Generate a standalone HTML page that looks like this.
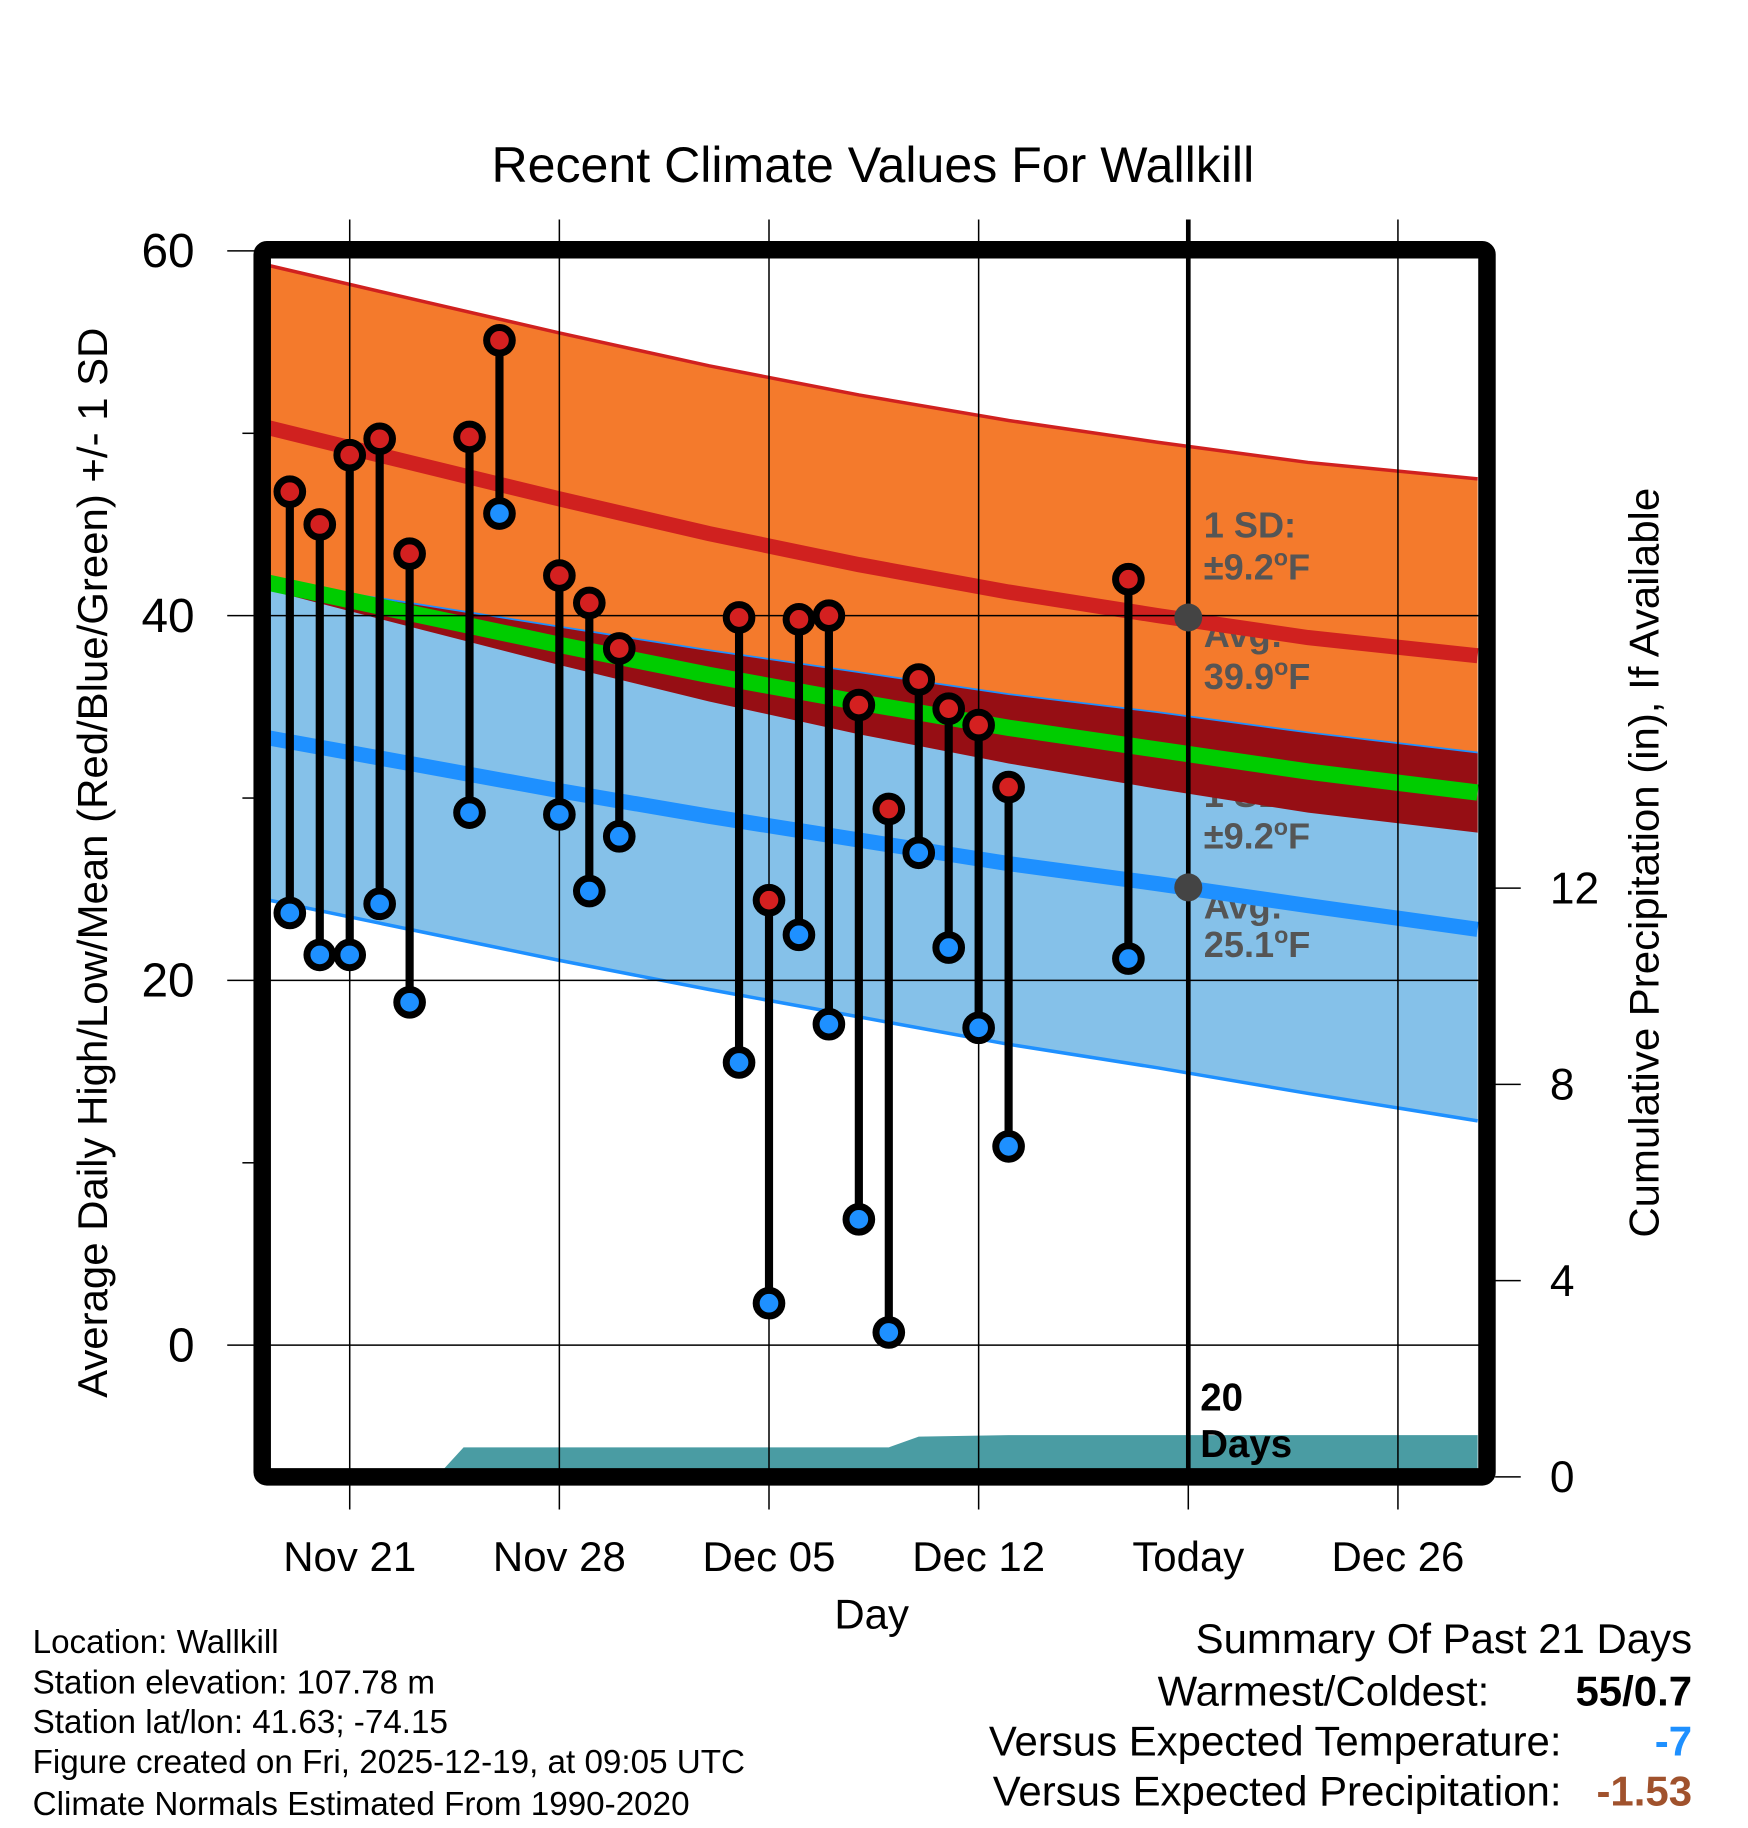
<!DOCTYPE html>
<html><head><meta charset="utf-8"><style>
html,body{margin:0;padding:0;background:#fff;}
svg{display:block;font-family:"Liberation Sans",Arial,sans-serif;}
</style></head><body>
<svg id="chart" width="1748" height="1828" viewBox="0 0 1500 1568" xmlns="http://www.w3.org/2000/svg">
<rect width="1500" height="1568" fill="#fff"/>
<text x="749" y="156" font-size="43" text-anchor="middle">Recent Climate Values For Wallkill</text>
<g id="plot"></g>
<text x="748" y="1397" font-size="36" text-anchor="middle">Day</text>
<text transform="translate(92,740) rotate(-90)" font-size="36" text-anchor="middle">Average Daily High/Low/Mean (Red/Blue/Green) +/- 1 SD</text>
<text transform="translate(1423,740) rotate(-90)" font-size="36" text-anchor="middle">Cumulative Precipitation (in), If Available</text>
<g font-size="28.5">
<text x="28" y="1418">Location: Wallkill</text>
<text x="28" y="1453">Station elevation: 107.78 m</text>
<text x="28" y="1487">Station lat/lon: 41.63; -74.15</text>
<text x="28" y="1521">Figure created on Fri, 2025-12-19, at 09:05 UTC</text>
<text x="28" y="1557">Climate Normals Estimated From 1990-2020</text>
</g>
<g font-size="36" text-anchor="end">
<text x="1452" y="1418">Summary Of Past 21 Days</text>
<text x="1278" y="1463">Warmest/Coldest:</text>
<text x="1452" y="1463" font-weight="bold">55/0.7</text>
<text x="1340" y="1506">Versus Expected Temperature:</text>
<text x="1452" y="1506" font-weight="bold" fill="#1e90ff">-7</text>
<text x="1340" y="1549">Versus Expected Precipitation:</text>
<text x="1452" y="1549" font-weight="bold" fill="#a0522d">-1.53</text>
</g>
</svg>
<script>
// day index: 0 = Nov 18
const obsDays = [1,2,3,4,5,7,8,10,11,12,16,17,18,19,20,21,22,23,24,25,29];
const highs = [46.8,45.0,48.8,49.7,43.4,49.8,55.1,42.2,40.7,38.2,39.9,24.4,39.8,40.0,35.1,29.4,36.5,34.9,34.0,30.6,42.0];
const lows  = [23.7,21.4,21.4,24.2,18.8,29.2,45.6,29.1,24.9,27.9,15.5,2.3,22.5,17.6,6.9,0.7,27.0,21.8,17.4,10.9,21.2];
const normDays = [0.3,5,10,15,20,25,30,35,40.66];
const normHigh = [50.3,48.4,46.4,44.5,42.8,41.3,40.0,38.8,37.8];
const normLow  = [33.3,31.9,30.4,29.0,27.7,26.4,25.3,24.1,22.8];
const sdHigh = [8.9,9.0,9.1,9.2,9.3,9.4,9.5,9.6,9.7];
const sdLowUp = [8.6,8.8,9.0,9.1,9.2,9.3,9.4,9.5,9.7];
const sdLowDn = [8.9,9.1,9.3,9.5,9.7,9.9,10.1,10.3,10.5];
const precipDays = [0.3,5.9,6.8,21.0,22.0,25.0,40.66];
const precipCum  = [0,0,0.6,0.6,0.82,0.85,0.85];
const xTickDays = [3,10,17,24,31,38];
const xTickLabels = ["Nov 21","Nov 28","Dec 05","Dec 12","Today","Dec 26"];
const yTicks = [0,20,40,60];
const yMinor = [10,30,50];
const y2Ticks = [0,4,8,12];

const X = d => 223 + 25.7*d;
const Y = v => 1154 - 15.65*v;
const Y2 = p => 1267 - 42.1*p;
const NS = "http://www.w3.org/2000/svg";
const plot = document.getElementById('plot');
function mk(tag, attrs, parent){const e=document.createElementNS(NS,tag);for(const k in attrs)e.setAttribute(k,attrs[k]);(parent||plot).appendChild(e);return e;}
function line(arr, fy){return arr.map((v,i)=>X(normDays[i]).toFixed(1)+','+fy(v).toFixed(1)).join(' ');}
function band(up, lo){return line(up,v=>Y(v))+' '+line(lo,v=>Y(v)).split(' ').reverse().join(' ');}
const hU = normHigh.map((v,i)=>v+sdHigh[i]), hL = normHigh.map((v,i)=>v-sdHigh[i]);
const lU = normLow.map((v,i)=>v+sdLowUp[i]), lL = normLow.map((v,i)=>v-sdLowDn[i]);
const mean = normHigh.map((v,i)=>(v+normLow[i])/2);

let e;
e = mk('polygon',{points:band(hU,hL),fill:'#f47a2c'});
 
e = mk('polygon',{points:band(lU,lL),fill:'#85c1e9'});
 

// annotations (drawn beneath overlap band)
const ann = mk('g',{fill:'#555','font-size':31,'font-weight':'bold'});
 
[['1 SD:',461,''],['±9.2',497,'F'],['Avg:',555,''],['39.9',591,'F'],['1 SD:',692,''],['±9.2',728,'F'],['Avg:',788,''],['25.1',821,'F']].forEach(t=>{
  const tx = mk('text',{x:1033,y:t[1]},ann); tx.textContent=t[0];
  if(t[2]){const s=mk('tspan',{'font-size':20,dy:-12},tx); s.textContent='o'; const f=mk('tspan',{dy:12},tx); f.textContent='F';}
});

const ovTop = lU.map((v,i)=>Math.min(v,hU[i])), ovBot = hL.map((v,i)=>Math.max(v,lL[i]));
e = mk('polygon',{points:band(ovTop,ovBot.map((v,i)=>Math.min(v,ovTop[i]))),fill:'#960e14'});
 
e = mk('polyline',{points:line(hU,Y),fill:'none',stroke:'#d0211f','stroke-width':3});
 
e = mk('polyline',{points:line(lL,Y),fill:'none',stroke:'#1e90ff','stroke-width':3});
 
e = mk('polyline',{points:line(lU,Y),fill:'none',stroke:'#1e90ff','stroke-width':1.5});
 
e = mk('polyline',{points:line(normHigh,Y),fill:'none',stroke:'#d0211f','stroke-width':13});
 
e = mk('polyline',{points:line(normLow,Y),fill:'none',stroke:'#1e90ff','stroke-width':13});
 
e = mk('polyline',{points:line(mean,Y),fill:'none',stroke:'#00cc00','stroke-width':14});
 

// precip
const pp = precipDays.map((d,i)=>X(d).toFixed(1)+','+Y2(precipCum[i]).toFixed(1));
e = mk('polygon',{points:X(precipDays[0])+','+Y2(0)+' '+pp.join(' ')+' '+X(precipDays[precipDays.length-1])+','+Y2(0),fill:'#4a9ca3'});
 

// grid
xTickDays.forEach((d,i)=>{
  e = mk('line',{x1:X(d),x2:X(d),y1:188,y2:1295,stroke:'#000','stroke-width':1.3});
   
  e = mk('text',{x:X(d),y:1348,'font-size':36,'text-anchor':'middle'}); e.textContent=xTickLabels[i];
   
});
yTicks.forEach(v=>{
  e = mk('line',{x1:195,x2:1275,y1:Y(v),y2:Y(v),stroke:'#000','stroke-width':1.3});
   
  e = mk('text',{x:167,y:Y(v)+14,'font-size':41,'text-anchor':'end'}); e.textContent=v;
   
});
yMinor.forEach(v=>{
  e = mk('line',{x1:208,x2:220,y1:Y(v),y2:Y(v),stroke:'#000','stroke-width':1.3});
   
});
y2Ticks.forEach(p=>{
  e = mk('line',{x1:1283,x2:1305,y1:Y2(p),y2:Y2(p),stroke:'#000','stroke-width':1.3});
   
  e = mk('text',{x:1330,y:Y2(p)+13,'font-size':38}); e.textContent=p;
   
});

e = mk('line',{x1:X(31),x2:X(31),y1:188,y2:1262,stroke:'#000','stroke-width':4});
 
e = mk('circle',{cx:X(31),cy:Y(39.9),r:12,fill:'#444'});
 
e = mk('circle',{cx:X(31),cy:Y(25.1),r:12,fill:'#444'});
 

// observations
obsDays.forEach((d,i)=>{
  const g = mk('g',{});
   
  mk('line',{x1:X(d),x2:X(d),y1:Y(highs[i]),y2:Y(lows[i]),stroke:'#000','stroke-width':7},g);
  const h = mk('circle',{cx:X(d),cy:Y(highs[i]),r:11,fill:'#d42020',stroke:'#000','stroke-width':6},g);
   
  const l = mk('circle',{cx:X(d),cy:Y(lows[i]),r:11,fill:'#1e90ff',stroke:'#000','stroke-width':6},g);
   
});

e = mk('text',{x:1030,y:1210,'font-size':33,'font-weight':'bold'}); e.textContent='20';
 
e = mk('text',{x:1030,y:1250,'font-size':33,'font-weight':'bold'}); e.textContent='Days';
 

e = mk('rect',{x:225,y:214,width:1051,height:1053,fill:'none',stroke:'#000','stroke-width':15,rx:4});
 
</script>
</body></html>
